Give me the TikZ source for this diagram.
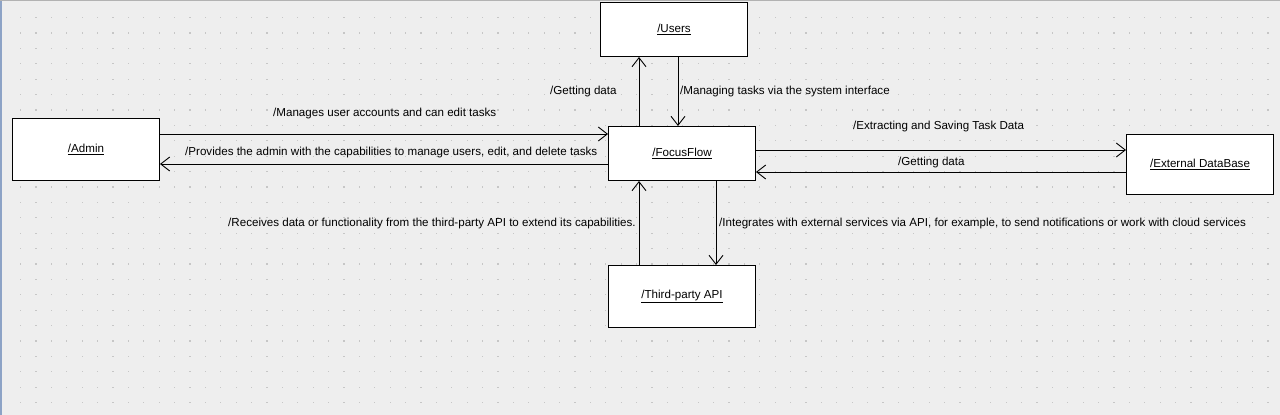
\documentclass[tikz,border=0pt]{standalone}
\usepackage{fontspec}
\setmainfont{Liberation Sans}
\usetikzlibrary{arrows.meta, positioning}

\definecolor{canvas}{HTML}{EEEEEE}
\definecolor{griddot}{HTML}{C6C6C6}
\definecolor{frameblue}{HTML}{8DA3C6}

\begin{document}
\begin{tikzpicture}[
    x=1pt, y=-1pt,
    font=\fontsize{11.6}{13}\selectfont,
    block/.style ={rectangle, draw=black, line width=1pt, fill=white, text centered, inner sep=0pt, minimum width=147pt, anchor=north west},
    flow/.style ={draw, line width=0.9pt, -{Straight Barb[length=9pt, width=14pt, line width=0.9pt]}},
    note/.style ={anchor=west, inner sep=0pt, text=black},
]

% Canvas
\useasboundingbox (0,0) rectangle (1280,415);
\fill[canvas] (0,0) rectangle (1280,415);
\foreach \x in {20,35.4,...,1280}
  \foreach \y in {17,32.4,...,415}
    \fill[griddot] (\x,\y) rectangle ++(1.2,1.2);
\fill[frameblue] (0,0) rectangle (2,415);
\draw[black!30, line width=0.6pt] (0,0.3) -- (1280,0.3);

% Nodes
\node [block, minimum height=54pt] (users) at (600,2) {\underline{/Users}};
\node [block, minimum height=62pt] (admin) at (12,118) {\underline{/Admin}};
\node [block, minimum height=54pt] (focus) at (608,126) {\underline{/FocusFlow}};
\node [block, minimum height=60pt] (extdb) at (1126,134) {\underline{/External DataBase}};
\node [block, minimum height=62pt] (api) at (608,265) {\underline{/Third-party API}};

% Lines
\path [flow] ([xshift=31pt]focus.north west) -- ([xshift=31pt]focus.north west |- users.south);
\path [flow] ([xshift=78pt]users.south west) -- ([xshift=78pt]users.south west |- focus.north);
\path [flow] ([yshift=-16pt]admin.north east) -- ([yshift=-16pt]admin.north east -| focus.west);
\path [flow] ([yshift=-38pt]focus.north west) -- ([yshift=-38pt]focus.north west -| admin.east);
\path [flow] ([yshift=-24pt]focus.north east) -- ([yshift=-24pt]focus.north east -| extdb.west);
\path [flow] ([yshift=-38pt]extdb.north west) -- ([yshift=-38pt]extdb.north west -| focus.east);
\path [flow] ([xshift=31pt]api.north west) -- ([xshift=31pt]api.north west |- focus.south);
\path [flow] ([xshift=108pt]focus.south west) -- ([xshift=108pt]focus.south west |- api.north);

% Labels
\node [note] (l-getu) at (550,92) {/Getting data};
\node [note] (l-manage) at (680,92) {/Managing tasks via the system interface};
\node [note] (l-admin) at (273,113) {/Manages user accounts and can edit tasks};
\node [note] (l-prov) at (185,152) {/Provides the admin with the capabilities to manage users, edit, and delete tasks};
\node [note] (l-save) at (853,126) {/Extracting and Saving Task Data};
\node [note] (l-getdb) at (898,162) {/Getting data};
\node [note] (l-recv) at (228,223) {/Receives data or functionality from the third-party API to extend its capabilities.};
\node [note] (l-integ) at (719,223) {/Integrates with external services via API, for example, to send notifications or work with cloud services};

\end{tikzpicture}
\end{document}
